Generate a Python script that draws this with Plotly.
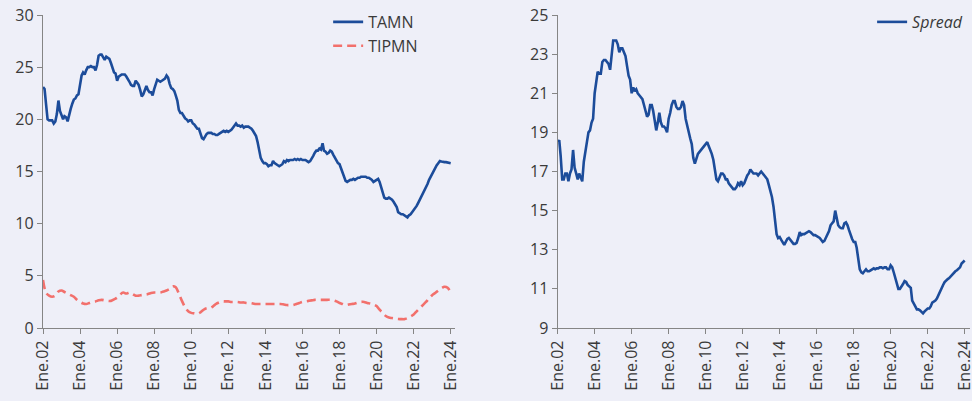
"""Tasas de interés en moneda nacional: TAMN, TIPMN y spread."""

import pandas as pd
import plotly.graph_objects as go
from plotly.subplots import make_subplots

# TAMN, monthly from Ene.02 to Ene.24 (%)
tamn = [
    23.1, 22.9, 21.5, 20.0, 19.9, 19.9, 19.9, 19.6, 19.8, 20.5, 21.8, 20.8,
    20.3, 20.0, 20.3, 20.2, 19.8, 20.5, 21.0, 21.5, 21.9, 22.0, 22.3, 22.4,
    23.5, 24.2, 24.5, 24.3, 24.7, 25.0, 25.0, 25.1, 25.0, 25.0, 24.7, 25.2,
    26.1, 26.2, 26.2, 26.0, 25.7, 26.0, 25.9, 25.8, 25.4, 24.9, 24.5, 24.4,
    23.7, 24.1, 24.2, 24.3, 24.3, 24.3, 24.1, 23.9, 23.6, 23.3, 23.2, 23.2,
    23.7, 23.5, 23.3, 22.8, 22.2, 22.4, 22.8, 23.2, 22.8, 22.6, 22.6, 22.3,
    22.9, 23.4, 23.8, 23.7, 23.6, 23.7, 23.8, 23.9, 24.2, 24.0, 23.4, 23.0,
    22.9, 22.7, 22.3, 21.8, 20.9, 20.6, 20.6, 20.3, 20.1, 20.0, 19.8, 19.9,
    19.9, 19.6, 19.5, 19.3, 19.1, 19.1, 18.7, 18.2, 18.1, 18.4, 18.6, 18.7,
    18.7, 18.7, 18.6, 18.6, 18.5, 18.5, 18.6, 18.7, 18.8, 18.9, 18.8, 18.9,
    18.8, 18.9, 19.0, 19.2, 19.4, 19.6, 19.4, 19.4, 19.3, 19.4, 19.2, 19.3,
    19.3, 19.3, 19.2, 19.1, 18.9, 18.7, 18.4, 17.8, 16.9, 16.3, 16.0, 15.8,
    15.8, 15.7, 15.5, 15.6, 15.6, 16.0, 15.8, 15.7, 15.6, 15.5, 15.6, 15.7,
    16.0, 15.9, 16.1, 16.0, 16.1, 16.1, 16.1, 16.2, 16.1, 16.2, 16.1, 16.2,
    16.1, 16.1, 16.1, 16.0, 15.9, 16.0, 16.2, 16.5, 16.8, 17.0, 17.0, 17.2,
    17.1, 17.7, 17.0, 16.9, 16.7, 16.8, 17.0, 16.9, 16.6, 16.3, 16.0, 15.8,
    15.7, 15.3, 14.8, 14.4, 14.1, 14.0, 14.1, 14.2, 14.2, 14.3, 14.2, 14.3,
    14.4, 14.4, 14.5, 14.5, 14.5, 14.5, 14.4, 14.4, 14.3, 14.2, 14.0, 14.1,
    14.2, 14.3, 14.0, 13.5, 12.9, 12.5, 12.4, 12.4, 12.5, 12.4, 12.3, 12.1,
    11.9, 11.6, 11.1, 11.0, 10.9, 10.9, 10.8, 10.7, 10.6, 10.8, 10.9, 11.1,
    11.3, 11.5, 11.7, 12.0, 12.3, 12.6, 12.8, 13.1, 13.4, 13.8, 14.2, 14.5,
    14.8, 15.1, 15.3, 15.6, 15.8, 16.0, 15.95, 15.9, 15.9, 15.9, 15.85, 15.8,
    15.8,
]

# TIPMN, every two months from Ene.02 to Ene.24 (%)
tipmn = [
    4.6, 3.4, 3.1, 3.0, 3.1, 3.5,
    3.6, 3.45, 3.3, 3.15, 3.0, 2.7,
    2.5, 2.35, 2.3, 2.4, 2.5, 2.55,
    2.65, 2.7, 2.65, 2.6, 2.6, 2.75,
    2.9, 3.2, 3.4, 3.3, 3.4, 3.25,
    3.1, 3.1, 3.15, 3.2, 3.25, 3.35,
    3.4, 3.4, 3.4, 3.5, 3.6, 3.75,
    4.0, 3.9, 3.3, 2.6, 2.0, 1.6,
    1.45, 1.4, 1.35, 1.5, 1.75, 1.9,
    1.9, 2.05, 2.3, 2.45, 2.55, 2.55,
    2.55, 2.5, 2.5, 2.5, 2.45, 2.45,
    2.4, 2.4, 2.35, 2.3, 2.3, 2.3,
    2.3, 2.3, 2.3, 2.3, 2.3, 2.3,
    2.25, 2.2, 2.2, 2.2, 2.3, 2.4,
    2.5, 2.55, 2.6, 2.65, 2.7, 2.7,
    2.7, 2.7, 2.7, 2.7, 2.65, 2.55,
    2.4, 2.3, 2.2, 2.25, 2.3, 2.35,
    2.45, 2.5, 2.5, 2.4, 2.35, 2.25,
    2.1, 1.75, 1.45, 1.15, 1.0, 0.95,
    0.9, 0.87, 0.85, 0.85, 0.95, 1.1,
    1.3, 1.6, 1.9, 2.2, 2.5, 2.85,
    3.15, 3.35, 3.6, 3.8, 3.95, 3.85,
    3.4,
]

# Spread, monthly from Ene.02 to Ene.24 (p.p.)
spread = [
    18.5, 18.6, 17.8, 16.6, 16.6, 16.9, 16.9, 16.5, 16.9, 17.1, 18.1, 17.2,
    16.9, 16.6, 16.9, 16.7, 16.5, 17.5, 17.9, 18.5, 19.0, 19.1, 19.5, 19.7,
    21.0, 21.7, 22.1, 22.0, 22.0, 22.6, 22.7, 22.7, 22.6, 22.5, 22.2, 23.0,
    23.7, 23.7, 23.7, 23.5, 23.1, 23.3, 23.3, 23.1, 22.9, 22.4, 21.9, 21.7,
    21.0, 21.3, 21.1, 21.2, 21.0, 20.9, 20.8, 20.7, 20.4, 20.1, 19.8, 19.9,
    20.4, 20.4, 20.1, 19.6, 19.1, 19.5, 20.0, 19.5, 19.3, 19.3, 19.2, 19.0,
    19.7, 20.0, 20.4, 20.6, 20.6, 20.3, 20.2, 20.2, 20.3, 20.6, 20.4, 19.7,
    19.3, 19.0, 18.7, 18.4, 17.7, 17.4, 17.6, 17.9, 18.0, 18.1, 18.2, 18.3,
    18.4, 18.5, 18.3, 18.1, 17.9, 17.6, 17.2, 16.6, 16.5, 16.7, 16.9, 16.9,
    16.8, 16.6, 16.6, 16.4, 16.3, 16.2, 16.1, 16.1, 16.2, 16.4, 16.3, 16.5,
    16.3, 16.4, 16.6, 16.8, 16.9, 17.1, 17.0, 16.9, 16.9, 16.9, 16.8, 16.9,
    17.0, 16.9, 16.8, 16.7, 16.6, 16.3, 16.0, 15.7, 15.2, 14.3, 13.8, 13.6,
    13.65, 13.5, 13.35, 13.25, 13.4, 13.55, 13.6, 13.5, 13.45, 13.3, 13.3, 13.35,
    13.6, 13.9, 13.75, 13.8, 13.8, 13.85, 13.9, 13.95, 13.9, 13.8, 13.75, 13.75,
    13.7, 13.65, 13.6, 13.5, 13.4, 13.45, 13.6, 13.75, 13.95, 14.25, 14.35, 14.45,
    15.0, 14.5, 14.25, 14.15, 14.1, 14.1, 14.35, 14.4, 14.25, 14.0, 13.75, 13.55,
    13.4, 13.4, 13.1, 12.4, 12.0, 11.85, 11.8, 11.9, 12.0, 11.9, 11.9, 11.95,
    12.0, 12.05, 12.0, 12.05, 12.05, 12.1, 12.1, 12.05, 12.1, 12.1, 12.0, 12.0,
    12.2, 12.1, 11.85, 11.55, 11.2, 11.0, 11.0, 11.1, 11.25, 11.4, 11.35, 11.2,
    11.1, 11.05, 10.4, 10.2, 10.1, 9.95, 9.95, 9.9, 9.8, 9.75, 9.85, 9.95,
    10.0, 10.0, 10.1, 10.3, 10.35, 10.4, 10.5, 10.7, 10.9, 11.05, 11.2, 11.35,
    11.45, 11.5, 11.55, 11.65, 11.75, 11.8, 11.9, 11.95, 12.05, 12.1, 12.3, 12.4,
    12.45,
]

tick_years = list(range(2002, 2025, 2))
tick_labels = [f"Ene.{y % 100:02d}" for y in tick_years]

dates_monthly = pd.date_range("2002-01-01", periods=len(tamn), freq="MS")
dates_bimonthly = pd.date_range("2002-01-01", periods=len(tipmn), freq="2MS")

BG = "#EEEFF8"
BLUE = "#1C4C9A"
RED = "#F2706C"
AXIS = "#858585"
TEXT = "#3A3A3A"
FONT = "Open Sans"

fig = make_subplots(rows=1, cols=2)

fig.add_trace(go.Scatter(
    x=dates_monthly, y=tamn, mode="lines", name="TAMN",
    line=dict(color=BLUE, width=2.6), legend="legend"
), row=1, col=1)

fig.add_trace(go.Scatter(
    x=dates_bimonthly, y=tipmn, mode="lines", name="TIPMN",
    line=dict(color=RED, width=2.6, dash="9px,5px", shape="spline"), legend="legend"
), row=1, col=1)

fig.add_trace(go.Scatter(
    x=dates_monthly, y=spread, mode="lines", name="<i>Spread</i>",
    line=dict(color=BLUE, width=2.6), legend="legend2"
), row=1, col=2)

tickvals = [f"{y}-01-01" for y in tick_years]
xaxis_style = dict(
    tickvals=tickvals, ticktext=tick_labels, tickangle=-90,
    showgrid=False, zeroline=False, automargin=False, ticklabeloverflow="allow",
    showline=True, linecolor=AXIS, linewidth=1.3,
    ticks="outside", ticklen=5, tickcolor=AXIS, tickwidth=1.3,
    tickfont=dict(family=FONT, size=16, color=TEXT),
)
yaxis_style = dict(
    showgrid=False, zeroline=False, automargin=False,
    showline=True, linecolor=AXIS, linewidth=1.3,
    ticks="outside", ticklen=5, tickcolor=AXIS, tickwidth=1.3,
    tickfont=dict(family=FONT, size=16, color=TEXT),
)

fig.update_xaxes(**xaxis_style)
fig.update_yaxes(**yaxis_style)

fig.update_layout(
    width=972, height=401,
    margin=dict(l=43, r=2, t=15, b=73),
    paper_bgcolor=BG, plot_bgcolor=BG,
    font=dict(family=FONT, size=16, color=TEXT),
    xaxis=dict(domain=[0, 0.4444], range=["2002-01-01", "2024-03-25"]),
    xaxis2=dict(domain=[0.5552, 1.0], range=["2002-01-01", "2024-04-15"]),
    yaxis=dict(domain=[0, 1], range=[0, 30], tickvals=[0, 5, 10, 15, 20, 25, 30]),
    yaxis2=dict(domain=[0, 1], range=[9, 25], tickvals=list(range(9, 26, 2))),
    legend=dict(
        x=0.3076, y=1.032, xanchor="left", yanchor="top",
        bgcolor="rgba(0,0,0,0)", font=dict(family=FONT, size=16, color=TEXT),
        tracegroupgap=0,
    ),
    legend2=dict(
        x=0.8944, y=1.032, xanchor="left", yanchor="top",
        bgcolor="rgba(0,0,0,0)", font=dict(family=FONT, size=16, color=TEXT),
    ),
)

# the page body has a default 8px margin; drop it so the figure fills the window
fig.write_html(
    "out.html",
    config={"displayModeBar": False},
    post_script="document.body.style.margin = '0';",
)
